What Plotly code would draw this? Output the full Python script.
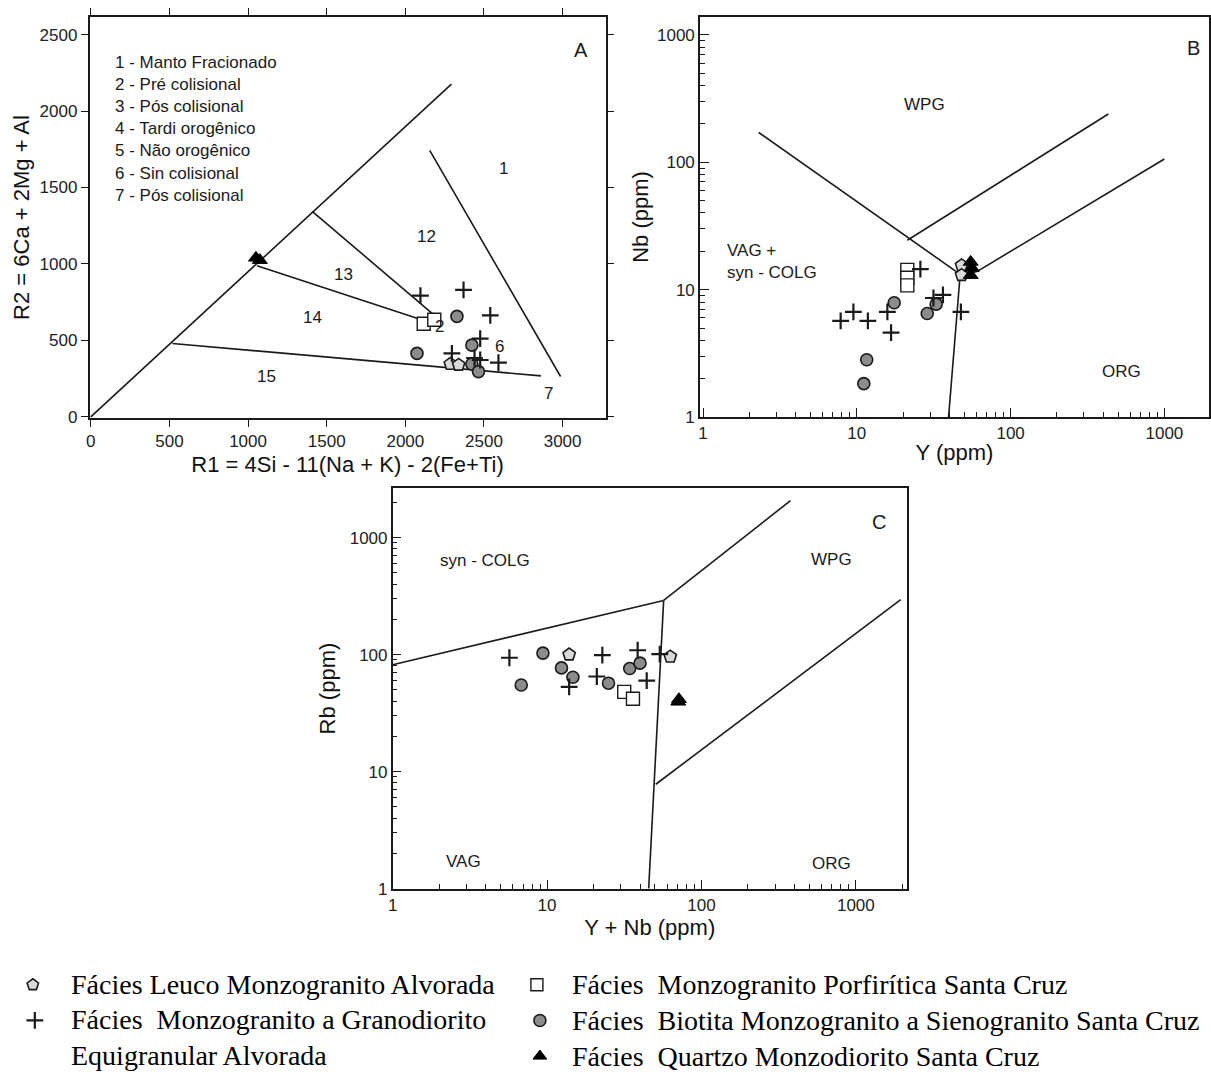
import numpy as np
import plotly.graph_objects as go

# ---------------- DATA ----------------
# Panel A : R1-R2 (De la Roche) diagram
A_leuco_x = [2286, 2339]
A_leuco_y = [346, 340]
A_equi_x = [2096, 2370, 2540, 2476, 2592, 2296, 2476, 2440]
A_equi_y = [793, 830, 664, 512, 355, 415, 372, 385]
A_porf_x = [2117, 2184]
A_porf_y = [609, 635]
A_biot_x = [2074, 2328, 2423, 2423, 2465]
A_biot_y = [415, 657, 469, 346, 296]
A_qmd_x = [1050, 1075]
A_qmd_y = [1040, 1025]

# Panel A boundaries (R1, R2)
A_lines = [
    ([0, 2293], [0, 2176]),
    ([519, 2862], [480, 268]),
    ([1408, 2198], [1344, 652]),
    ([1057, 2147], [988, 620]),
    ([2155, 2987], [1743, 264]),
]
A_field_labels = ["1", "12", "13", "14", "15", "6", "7", "2"]
A_field_x = [2624, 2135, 1609, 1408, 1120, 2598, 2912, 2215]
A_field_y = [1624, 1182, 933, 653, 264, 458, 156, 590]
A_key = ["1 - Manto Fracionado", "2 - Pré colisional", "3 - Pós colisional",
         "4 - Tardi orogênico", "5 - Não orogênico", "6 - Sin colisional",
         "7 - Pós colisional"]

# Panel B : Nb vs Y
B_leuco_x = [48, 48]
B_leuco_y = [15.5, 13]
B_equi_x = [7.85, 9.5, 11.8, 15.8, 16.7, 25.9, 31.5, 36.3, 47.5]
B_equi_y = [5.7, 6.7, 5.7, 6.7, 4.6, 14.5, 8.6, 9.1, 6.7]
B_porf_x = [21.3, 21.3, 21.3]
B_porf_y = [14.3, 12.4, 10.8]
B_biot_x = [11.6, 11.1, 17.5, 28.7, 32.8]
B_biot_y = [2.82, 1.83, 7.9, 6.5, 7.7]
B_qmd_x = [55, 56, 55]
B_qmd_y = [16.5, 14.8, 13]

B_lines = [
    ([2.3, 47], [171, 13.2]),
    ([47, 39.5], [13.2, 1]),
    ([47, 60], [13.2, 13.8]),
    ([60, 1000], [13.8, 106]),
    ([21.3, 432], [24.4, 239]),
]
B_field_labels = ["WPG", "VAG +<br>syn - COLG", "ORG"]
B_field_x = [27.4, 1.4, 526]
B_field_y = [286, 16.5, 2.3]

# Panel C : Rb vs Y+Nb
C_leuco_x = [13.9, 62.8]
C_leuco_y = [100, 96]
C_equi_x = [5.7, 22.8, 38.6, 53.7, 21, 44.2, 13.9]
C_equi_y = [94, 99, 109, 101, 65, 60, 53]
C_porf_x = [31.6, 36]
C_porf_y = [48, 42]
C_biot_x = [6.8, 9.4, 12.4, 14.7, 25, 34.3, 40]
C_biot_y = [55, 103, 77, 64, 57, 76, 84.5]
C_qmd_x = [70.7, 71.5]
C_qmd_y = [39.5, 41.5]

C_lines = [
    ([1, 56.9], [82, 290]),
    ([56.9, 377], [290, 2067]),
    ([56.9, 45.5], [290, 1]),
    ([50.6, 1953], [7.8, 295]),
]
C_field_labels = ["syn - COLG", "WPG", "VAG", "ORG"]
C_field_x = [3.98, 699, 2.88, 699]
C_field_y = [631, 652, 1.7, 1.65]

legend_names = ["Fácies Leuco Monzogranito Alvorada",
                "Fácies  Monzogranito a Granodiorito<br>Equigranular Alvorada",
                "Fácies  Monzogranito Porfirítica Santa Cruz",
                "Fácies  Biotita Monzogranito a Sienogranito Santa Cruz",
                "Fácies  Quartzo Monzodiorito Santa Cruz"]

# ---------------- STYLE ----------------
SANS = "Liberation Sans, Arial, sans-serif"
SERIF = "Liberation Serif, Times New Roman, serif"
INK = "#1a1a1a"
styles = {
    "leuco": dict(symbol="pentagon", size=13, color="#d9d9d9", line=dict(color=INK, width=1.6)),
    "equi": dict(symbol="cross-thin", size=12, color=INK, line=dict(color=INK, width=2.2)),
    "porf": dict(symbol="square", size=13, color="white", line=dict(color=INK, width=1.4)),
    "biot": dict(symbol="circle", size=12, color="#8c8c8c", line=dict(color=INK, width=1.6)),
    "qmd": dict(symbol="triangle-up", size=13, color="black", line=dict(color="black", width=1)),
}

fig = go.Figure()

def add_panel(ax, series, lines):
    xr = "x" if ax == 1 else f"x{ax}"
    yr = "y" if ax == 1 else f"y{ax}"
    for lx, ly in lines:
        fig.add_trace(go.Scatter(x=lx, y=ly, mode="lines", xaxis=xr, yaxis=yr,
                                 line=dict(color=INK, width=1.6), showlegend=False,
                                 hoverinfo="skip"))
    for key, (sx, sy) in series.items():
        fig.add_trace(go.Scatter(x=sx, y=sy, mode="markers", xaxis=xr, yaxis=yr,
                                 marker=styles[key], showlegend=False))

add_panel(1, {"biot": (A_biot_x, A_biot_y), "leuco": (A_leuco_x, A_leuco_y),
              "porf": (A_porf_x, A_porf_y), "equi": (A_equi_x, A_equi_y),
              "qmd": (A_qmd_x, A_qmd_y)}, A_lines)
add_panel(2, {"biot": (B_biot_x, B_biot_y), "leuco": (B_leuco_x, B_leuco_y),
              "porf": (B_porf_x, B_porf_y), "equi": (B_equi_x, B_equi_y),
              "qmd": (B_qmd_x, B_qmd_y)}, B_lines)
add_panel(3, {"biot": (C_biot_x, C_biot_y), "leuco": (C_leuco_x, C_leuco_y),
              "porf": (C_porf_x, C_porf_y), "equi": (C_equi_x, C_equi_y),
              "qmd": (C_qmd_x, C_qmd_y)}, C_lines)

# Legend symbols (pixel space axis 4)
leg_keys = ["leuco", "equi", "porf", "biot", "qmd"]
leg_sym_x = [28, 30, 535, 538, 538]
leg_sym_y = [994, 1030, 994, 1030, 1066]
leg_txt_x = [64, 64, 568, 568, 568]
leg_txt_y = [994, 1030, 994, 1030, 1066]
for k, sx, sy in zip(leg_keys, leg_sym_x, leg_sym_y):
    m = dict(styles[k])
    m["size"] = 12
    fig.add_trace(go.Scatter(x=[sx], y=[sy], mode="markers", xaxis="x4", yaxis="y4",
                             marker=m, showlegend=False, hoverinfo="skip"))

ann = []
for t, x, y in zip(A_field_labels, A_field_x, A_field_y):
    ann.append(dict(text=t, x=x, y=y, xref="x", yref="y", showarrow=False,
                    font=dict(family=SANS, size=17, color=INK)))
ann.append(dict(text="<br>".join(A_key), x=140, y=2395, xref="x", yref="y", showarrow=False,
                xanchor="left", yanchor="top", align="left",
                font=dict(family=SANS, size=17, color=INK)))
ann.append(dict(text="A", x=0.97, y=0.95, xref="x domain", yref="y domain", showarrow=False,
                font=dict(family=SANS, size=20, color=INK)))
for t, x, y in zip(B_field_labels, B_field_x, B_field_y):
    ann.append(dict(text=t, x=np.log10(x), y=np.log10(y), xref="x2", yref="y2", showarrow=False,
                    xanchor="left" if "VAG" in t else "center", align="left",
                    font=dict(family=SANS, size=17, color=INK)))
ann.append(dict(text="B", x=np.log10(1535), y=np.log10(790), xref="x2", yref="y2", showarrow=False,
                font=dict(family=SANS, size=20, color=INK)))
for t, x, y in zip(C_field_labels, C_field_x, C_field_y):
    ann.append(dict(text=t, x=np.log10(x), y=np.log10(y), xref="x3", yref="y3", showarrow=False,
                    font=dict(family=SANS, size=17, color=INK)))
ann.append(dict(text="C", x=np.log10(1414), y=np.log10(1350), xref="x3", yref="y3", showarrow=False,
                font=dict(family=SANS, size=20, color=INK)))
for t, x, y in zip(legend_names, leg_txt_x, leg_txt_y):
    ann.append(dict(text=t, x=x, y=y, xref="x4", yref="y4", showarrow=False,
                    xanchor="left", yanchor="middle" if "<br>" not in t else "top",
                    yshift=18 if "<br>" in t else 0, align="left",
                    font=dict(family=SERIF, size=28, color="black")))

tickfont = dict(family=SANS, size=17, color="#222")
titlefont = dict(family=SANS, size=22, color="#111")

def lin_axis(**kw):
    d = dict(showline=True, linecolor=INK, linewidth=1.5, mirror="ticks", ticks="outside",
             ticklen=7, tickcolor=INK, tickfont=tickfont, showgrid=False, zeroline=False)
    d.update(kw)
    return d

minor_vals = [m * 10 ** e for e in range(0, 4) for m in range(2, 10)]

def log_axis(**kw):
    d = dict(type="log", showline=True, linecolor=INK, linewidth=1.5, mirror=True,
             ticks="inside", ticklen=9, tickcolor=INK, tickfont=tickfont,
             showgrid=False, zeroline=False, tickvals=[1, 10, 100, 1000],
             ticktext=["1", "10", "100", "1000"],
             minor=dict(ticks="inside", ticklen=5, tickcolor=INK, tickvals=minor_vals, showgrid=False))
    d.update(kw)
    return d

fig.update_layout(
    width=1211, height=1079, margin=dict(l=0, r=0, t=0, b=0),
    paper_bgcolor="white", plot_bgcolor="rgba(0,0,0,0)",
    xaxis=lin_axis(domain=[0.0702, 0.4988], range=[-8, 3273], tickvals=[0, 500, 1000, 1500, 2000, 2500, 3000],
                   anchor="y", title=dict(text="R1 = 4Si - 11(Na + K) - 2(Fe+Ti)", font=titlefont, standoff=6)),
    yaxis=lin_axis(domain=[0.6089, 0.9842], range=[-8, 2616], tickvals=[0, 500, 1000, 1500, 2000, 2500],
                   anchor="x", title=dict(text="R2 = 6Ca + 2Mg + Al", font=titlefont, standoff=4)),
    xaxis2=log_axis(domain=[0.5772, 1.0], range=[-0.02, 3.29], anchor="y2",
                    title=dict(text="Y (ppm)", font=titlefont, standoff=2)),
    yaxis2=log_axis(domain=[0.6098, 0.9842], range=[0, 3.14], anchor="x2",
                    title=dict(text="Nb (ppm)", font=titlefont, standoff=2)),
    xaxis3=log_axis(domain=[0.3220, 0.7490], range=[0, 3.33], anchor="y3",
                    title=dict(text="Y + Nb (ppm)", font=titlefont, standoff=0)),
    yaxis3=log_axis(domain=[0.1687, 0.5431], range=[0, 3.42], anchor="x3",
                    title=dict(text="Rb (ppm)", font=titlefont, standoff=8)),
    xaxis4=dict(domain=[0, 1], range=[0, 1211], visible=False, anchor="y4", fixedrange=True),
    yaxis4=dict(domain=[0, 1], range=[1079, 0], visible=False, anchor="x4", fixedrange=True),
    annotations=ann,
)

fig.write_html("out.html")
